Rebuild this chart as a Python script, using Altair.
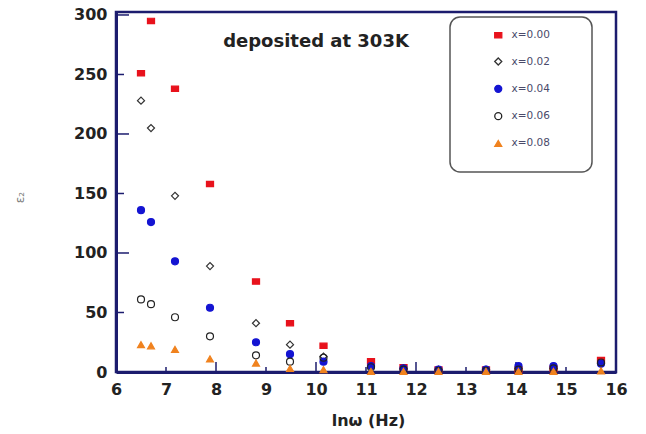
import altair as alt
import pandas as pd

# ---- data ----
ln_omega = [6.5, 6.7, 7.18, 7.88, 8.8, 9.48, 10.15, 11.1, 11.75, 12.45, 13.4, 14.05, 14.75, 15.7]
series_names = ["x=0.00", "x=0.02", "x=0.04", "x=0.06", "x=0.08"]
eps_000 = [251, 295, 238, 158, 76, 41, 22, 9, 4, 2, 2, 2, 3, 10]
eps_002 = [228, 205, 148, 89, 41, 23, 13, 5, 3, 2, 2, 3, 3, 7]
eps_004 = [136, 126, 93, 54, 25, 15, 8.7, 5, 3, 2, 2, 5, 5, 7]
eps_006 = [61, 57, 46, 30, 14, 8.7, 12, 4, 2, 1, 1, 2, 3, 8]
eps_008 = [23, 22, 19, 11, 7.5, 3, 2, 0.5, 0.5, 0.5, 0.5, 0.5, 0.5, 1]
y_ticks = [50, 100, 150, 200, 250, 300]
x_ticks = [7, 8, 9, 10, 11, 12, 13, 14, 15]
annotation = "deposited at 303K"

rows = []
for name, vals in zip(series_names, [eps_000, eps_002, eps_004, eps_006, eps_008]):
    for xv, yv in zip(ln_omega, vals):
        rows.append({"series": name, "lnw": xv, "eps": yv})
df = pd.DataFrame(rows)

NAVY = "#1c1c6e"
FONT = "DejaVu Sans"

xscale = alt.Scale(domain=[6, 16], nice=False, zero=False)
yscale = alt.Scale(domain=[0, 302.5], nice=False, zero=False)

shape_scale = alt.Scale(domain=series_names,
                        range=["M-1,-0.75L1,-0.75L1,0.75L-1,0.75Z", "diamond", "circle", "circle", "triangle-up"])
fill_scale = alt.Scale(domain=series_names,
                       range=["#e8121c", "transparent", "#1414d2", "transparent", "#f0821e"])
stroke_scale = alt.Scale(domain=series_names,
                         range=["#e8121c", "#333333", "#1414d2", "#222222", "#f0821e"])
size_scale = alt.Scale(domain=series_names, range=[50, 48, 26, 50, 70])

leg = alt.Legend(title=None, zindex=2)

points = alt.Chart(df).mark_point(opacity=1, strokeWidth=1.2).encode(
    x=alt.X("lnw:Q", scale=xscale,
            axis=alt.Axis(title="lnω  (Hz)", values=list(range(6, 17)), labelOverlap=False,
                          titleX=252, titleY=40, titleBaseline="top", titleAnchor="middle")),
    y=alt.Y("eps:Q", scale=yscale,
            axis=alt.Axis(title="ε₂", values=[0, 50, 100, 150, 200, 250, 300], labelOverlap=False,
                          titleX=-90, titleY=185, titleFontSize=12, titleFontWeight="normal",
                          titleColor="#808080", titleAnchor="middle")),
    shape=alt.Shape("series:N", scale=shape_scale, legend=leg),
    fill=alt.Fill("series:N", scale=fill_scale, legend=leg),
    stroke=alt.Stroke("series:N", scale=stroke_scale, legend=leg),
    size=alt.Size("series:N", scale=size_scale, legend=leg),
)

legend_box = alt.Chart(pd.DataFrame({"k": [0]})).mark_rect(
    fill="transparent", stroke="#555555", strokeWidth=1.5, cornerRadius=10
).encode(x=alt.value(334), x2=alt.value(476), y=alt.value(5), y2=alt.value(160))

ytick_df = pd.DataFrame({"v": y_ticks})
ytick_df["major"] = ytick_df["v"] % 100 == 0
ytick_major = alt.Chart(ytick_df).transform_filter("datum.major").mark_rule(
    color=NAVY, strokeWidth=1.5).encode(y=alt.Y("v:Q", scale=yscale), x=alt.value(0), x2=alt.value(13))
ytick_minor = alt.Chart(ytick_df).transform_filter("!datum.major").mark_rule(
    color=NAVY, strokeWidth=1.5).encode(y=alt.Y("v:Q", scale=yscale), x=alt.value(0), x2=alt.value(8))

xtick_df = pd.DataFrame({"v": x_ticks})
xtick_df["major"] = xtick_df["v"] % 2 == 0
xtick_major = alt.Chart(xtick_df).transform_filter("datum.major").mark_rule(
    color=NAVY, strokeWidth=1.5).encode(x=alt.X("v:Q", scale=xscale), y=alt.value(360), y2=alt.value(350))
xtick_minor = alt.Chart(xtick_df).transform_filter("!datum.major").mark_rule(
    color=NAVY, strokeWidth=1.5).encode(x=alt.X("v:Q", scale=xscale), y=alt.value(360), y2=alt.value(355))

note = alt.Chart(pd.DataFrame({"t": [annotation]})).mark_text(
    font=FONT, fontWeight="bold", fontSize=18, color="#222222", align="center", baseline="middle"
).encode(text="t:N", x=alt.value(200), y=alt.value(30))

chart = alt.layer(legend_box, ytick_major, ytick_minor, xtick_major, xtick_minor, note, points).properties(
    width=500, height=360,
    autosize=alt.AutoSizeParams(type="none"),
    padding={"left": 116, "top": 12, "right": 30, "bottom": 62},
).configure_view(
    stroke=NAVY, strokeWidth=2.5
).configure_axis(
    domainColor=NAVY, domainWidth=3, ticks=False, tickSize=0, grid=False,
    labelFont=FONT, labelFontWeight="bold", labelFontSize=16, labelColor="#222222",
    labelPadding=9, titleFont=FONT, titleFontWeight="bold", titleFontSize=16, titleColor="#222222",
    labelFlush=False, labelOverlap=False,
).configure_legend(
    orient="none", legendX=377, legendY=18, padding=0, rowPadding=14.3,
    labelFont=FONT, labelFontSize=10.5, labelColor="#4a4a6a", labelOffset=8,
    symbolStrokeWidth=1.3,
)

chart.save("out.html", embed_options={"renderer": "svg", "actions": False})
